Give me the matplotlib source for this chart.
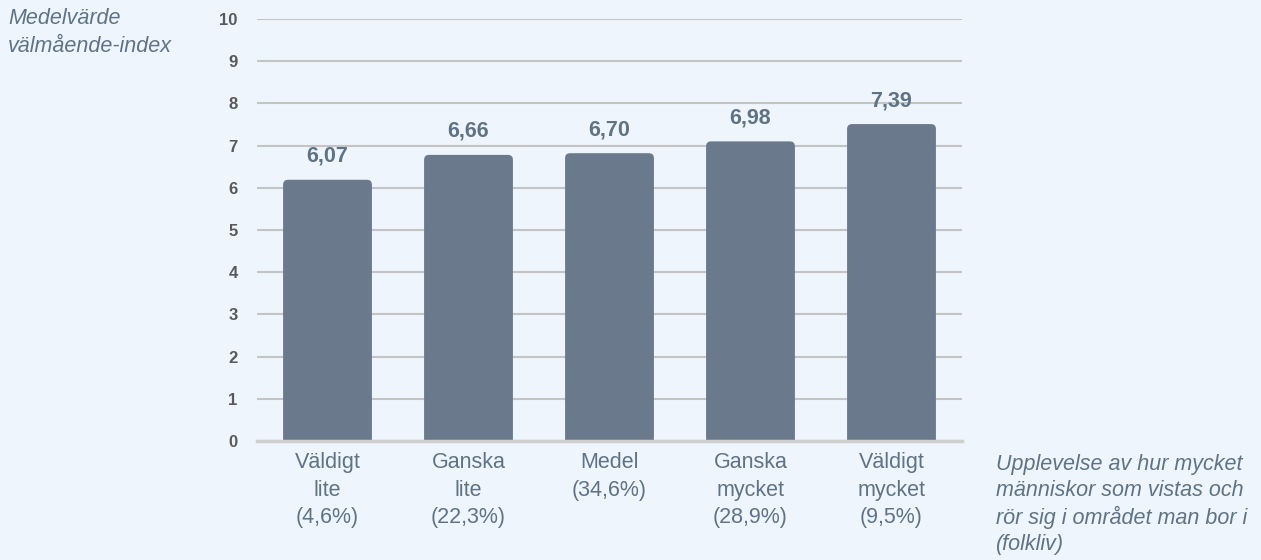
import matplotlib.pyplot as plt
from matplotlib.patches import FancyBboxPatch

plt.rcParams['font.family'] = ['Liberation Sans', 'DejaVu Sans']

kategorier = ['Väldigt\nlite\n(4,6%)', 'Ganska\nlite\n(22,3%)', 'Medel\n(34,6%)',
              'Ganska\nmycket\n(28,9%)', 'Väldigt\nmycket\n(9,5%)']
medelvarden = [6.07, 6.66, 6.70, 6.98, 7.39]
y_ticks = list(range(0, 11))

bg = '#EEF5FD'
bar_color = '#6A7A8C'
text_color = '#5F7385'

fig = plt.figure(figsize=(12.61, 5.6), dpi=100, facecolor=bg)
ax = fig.add_axes([257 / 1261, 119 / 560, 705 / 1261, 422 / 560], facecolor=bg)

x = list(range(len(kategorier)))
bars = ax.bar(x, medelvarden, width=0.63, color=bar_color, zorder=3)

# rundade hörn upptill (nederkanten döljs under nollinjen)
for b in bars:
    b.set_visible(False)
    p = FancyBboxPatch((b.get_x(), -0.3), b.get_width(), b.get_height() + 0.42,
                       boxstyle='round,pad=0,rounding_size=0.035',
                       mutation_aspect=141 / 42.2,
                       facecolor=bar_color, edgecolor='none', zorder=3)
    ax.add_patch(p)

for xi, v in zip(x, medelvarden):
    ax.annotate(f'{v:.2f}'.replace('.', ','), (xi, v), xytext=(0, 13),
                textcoords='offset points', ha='center', va='bottom',
                fontsize=15.5, fontweight='bold', color=text_color)

ax.set_xlim(-0.5, 4.5)
ax.set_ylim(0, 10)
ax.set_yticks(y_ticks)
ax.set_yticklabels([str(t) for t in y_ticks], fontsize=12, fontweight='bold', color='#595959')
ax.set_xticks(x)
ax.set_xticklabels(kategorier, fontsize=15.5, color=text_color, linespacing=1.4, va='top')
ax.tick_params(axis='y', length=0, pad=14)
ax.tick_params(axis='x', length=0, pad=8)

ax.grid(axis='y', color='#C4C4C4', linewidth=1.5, zorder=0)
ax.set_axisbelow(True)
for s in ['top', 'right', 'left']:
    ax.spines[s].set_visible(False)
ax.spines['bottom'].set_color('#CFCFCF')
ax.spines['bottom'].set_linewidth(2.5)
ax.spines['bottom'].set_zorder(4)

fig.text(8 / 1261, 1 - 8 / 560, 'Medelvärde\nvälmående-index', ha='left', va='top',
         fontsize=15.5, style='italic', color=text_color, linespacing=1.42)
fig.text(996 / 1261, 1 - 454 / 560,
         'Upplevelse av hur mycket\nmänniskor som vistas och\nrör sig i området man bor i\n(folkliv)',
         ha='left', va='top', fontsize=15.5, style='italic', color=text_color, linespacing=1.3)

fig.savefig('out.png', dpi=100, facecolor=bg)
